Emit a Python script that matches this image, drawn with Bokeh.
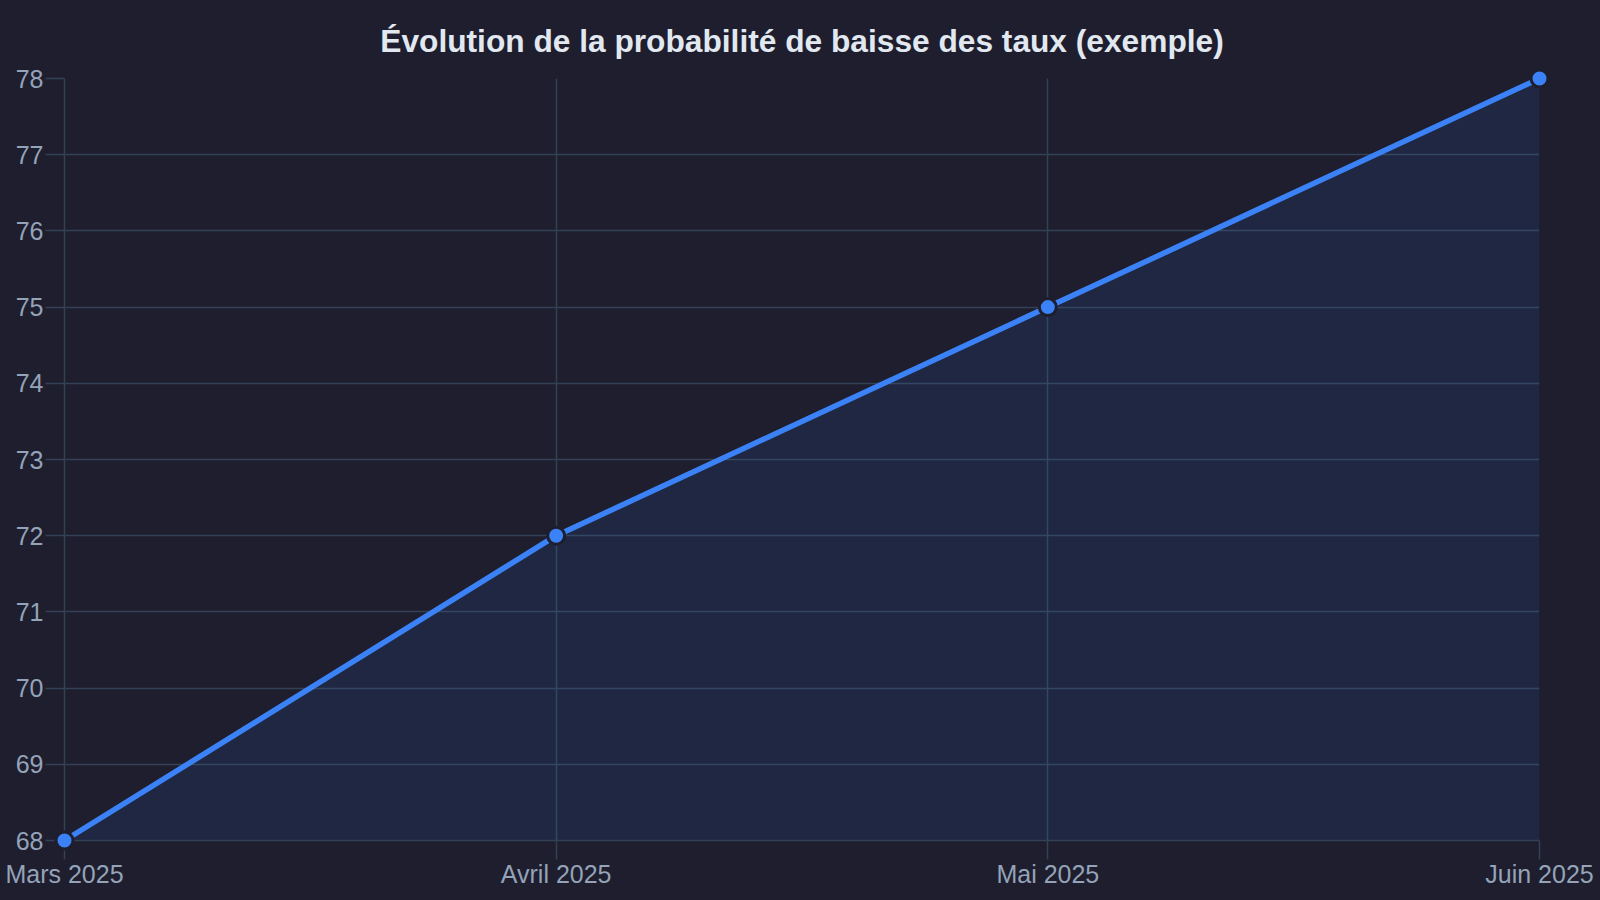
from bokeh.plotting import figure
from bokeh.models import FixedTicker, Range1d
from bokeh.embed import file_html
from bokeh.resources import INLINE

months = ["Mars 2025", "Avril 2025", "Mai 2025", "Juin 2025"]
probabilities = [68, 72, 75, 78]
y_ticks = list(range(68, 79))

BG = "#1e1e2e"
GRID = "#334155"
TICK_TXT = "#94a3b8"
LINE = "#3b82f6"
FONT = "Liberation Sans"

x = list(range(len(months)))

p = figure(
    frame_width=1475, frame_height=762,
    min_border_left=64, min_border_right=61, min_border_top=78, min_border_bottom=60,
    x_range=Range1d(0, len(months) - 1), y_range=Range1d(68, 78),
    output_backend="svg", toolbar_location=None,
    background_fill_color=BG, border_fill_color=BG,
    title="Évolution de la probabilité de baisse des taux (exemple)",
)
p.outline_line_color = None

p.title.align = "center"
p.title.text_font = FONT
p.title.text_font_size = "31.7px"
p.title.text_font_style = "bold"
p.title.text_color = "#e2e8f0"
p.title.standoff = 39

p.varea(x=x, y1=[min(y_ticks)] * len(x), y2=probabilities, fill_color=LINE, fill_alpha=0.1)
p.line(x, probabilities, line_color=LINE, line_width=5.5, level="overlay")
p.scatter(x, probabilities, size=17, fill_color=LINE, line_color=BG, line_width=3, level="overlay")

p.xaxis.ticker = FixedTicker(ticks=x)
p.xaxis.major_label_overrides = {i: m for i, m in enumerate(months)}
p.yaxis.ticker = FixedTicker(ticks=y_ticks)

for ax in (p.xaxis, p.yaxis):
    ax.axis_line_color = GRID
    ax.axis_line_width = 1.5
    ax.major_tick_line_color = GRID
    ax.major_tick_line_width = 1.5
    ax.major_tick_out = 19
    ax.major_tick_in = 0
    ax.minor_tick_line_color = None
    ax.major_label_text_font = FONT
    ax.major_label_text_font_size = "25px"
    ax.major_label_text_color = TICK_TXT
p.xaxis.major_label_standoff = 0
p.yaxis.major_label_standoff = 2

p.xgrid.ticker = FixedTicker(ticks=x)
p.grid.grid_line_color = GRID
p.grid.grid_line_width = 1.5

html = file_html(p, INLINE)
html = html.replace("<head>", "<head><style>html,body{background:%s;}</style>" % BG, 1)
open("out.html", "w").write(html)
